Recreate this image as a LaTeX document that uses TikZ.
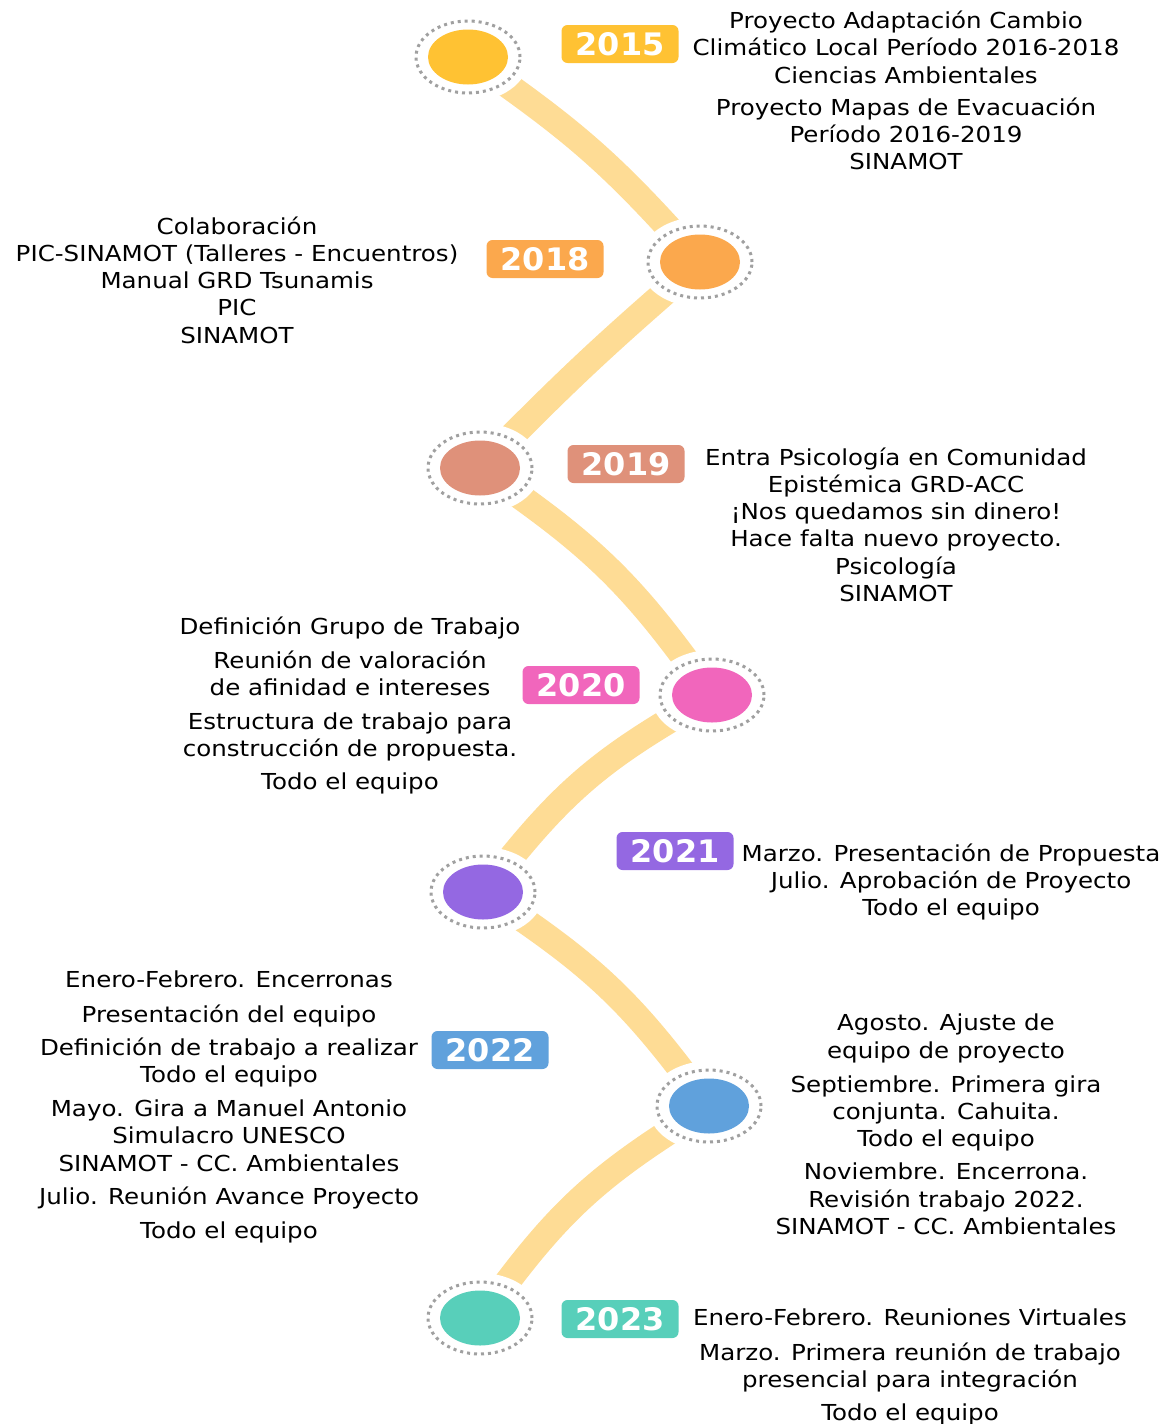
\documentclass[tikz,border=0pt]{standalone}
\usepackage{fontspec}
\setmainfont[FakeStretch=1.115]{DejaVu Sans}
\newfontfamily\yearfont[FakeStretch=1.03]{DejaVu Sans}
\usetikzlibrary{shapes.geometric, backgrounds}

\definecolor{c15}{HTML}{FFC233}
\definecolor{c18}{HTML}{FBA84D}
\definecolor{c19}{HTML}{DF917A}
\definecolor{c20}{HTML}{F166BC}
\definecolor{c21}{HTML}{9468E2}
\definecolor{c22}{HTML}{60A1DC}
\definecolor{c23}{HTML}{58CFBA}
\definecolor{bandcol}{HTML}{FEDC95}
\definecolor{ringgray}{HTML}{A0A0A0}

\tikzset{
    yeardot/.style={ellipse, minimum width=104pt, minimum height=72pt, inner sep=0pt,
        draw=ringgray, line width=3pt, dash pattern=on 3pt off 4pt, fill=white,
        preaction={draw=white, solid, line width=18pt},
        path picture={\fill[#1] (path picture bounding box.center) ellipse [x radius=40pt, y radius=27.5pt];}},
    yearbox/.style={rounded corners=6pt, fill=#1, text=white, minimum width=117pt, minimum height=38pt,
        inner sep=0pt, font=\yearfont\bfseries\fontsize{31}{32}\selectfont},
    notes/.style={align=center, inner sep=0pt, anchor=north, font=\fontsize{22}{27.2}\selectfont},
    band/.style={draw=bandcol, line width=26pt},
}

\begin{document}
\begin{tikzpicture}[x=1pt, y=-1pt]
            \useasboundingbox (0, 0) rectangle (1164, 1424);

            \node[yeardot=c15] at (468, 57) (s15) {};
            \node[yeardot=c18] at (700, 262) (s18) {};
            \node[yeardot=c19] at (480, 468) (s19) {};
            \node[yeardot=c20] at (712, 695) (s20) {};
            \node[yeardot=c21] at (483, 892) (s21) {};
            \node[yeardot=c22] at (709, 1106) (s22) {};
            \node[yeardot=c23] at (480, 1318) (s23) {};

            \begin{scope}[on background layer]
                \draw[band] (s15) to[bend left=6] (s18);
                \draw[band] (s18) to[bend right=2] (s19);
                \draw[band] (s19) to[bend left=9] (s20);
                \draw[band] (s20) to[bend right=10] (s21);
                \draw[band] (s21) to[bend left=9] (s22);
                \draw[band] (s22) to[bend right=10] (s23);
            \end{scope}

            \node[yearbox=c15] at (620, 44) (y15) {2015};
            \node[yearbox=c18] at (545, 259) (y18) {2018};
            \node[yearbox=c19] at (626, 464) (y19) {2019};
            \node[yearbox=c20] at (581, 685) (y20) {2020};
            \node[yearbox=c21] at (675, 851) (y21) {2021};
            \node[yearbox=c22] at (490, 1050) (y22) {2022};
            \node[yearbox=c23] at (620, 1319) (y23) {2023};

            % texto de cada año
            \node[notes] at (906, 11) (t15) {Proyecto Adaptación Cambio\\ Climático Local Período 2016-2018\\ Ciencias Ambientales\\[5pt]
                Proyecto Mapas de Evacuación\\ Período 2016-2019\\ SINAMOT};
            \node[notes] at (237, 216.5) (t18) {Colaboración\\ PIC-SINAMOT (Talleres - Encuentros)\\ Manual GRD Tsunamis\\ PIC\\ SINAMOT};
            \node[notes] at (896, 447.5) (t19) {Entra Psicología en Comunidad\\ Epistémica GRD-ACC\\ ¡Nos quedamos sin dinero!\\
                Hace falta nuevo proyecto.\\ Psicología\\ SINAMOT};
            \node[notes] at (350, 617) (t20) {Definición Grupo de Trabajo\\[6pt] Reunión de valoración\\ de afinidad e intereses\\[7pt]
                Estructura de trabajo para\\ construcción de propuesta.\\[6pt] Todo el equipo};
            \node[notes] at (951, 843.5) (t21) {Marzo. Presentación de Propuesta\\ Julio. Aprobación de Proyecto\\ Todo el equipo};
            \node[notes] at (229, 971) (t22a) {Enero-Febrero. Encerronas\\[7pt] Presentación del equipo\\[6pt] Definición de trabajo a realizar\\
                Todo el equipo\\[7pt] Mayo. Gira a Manuel Antonio\\ Simulacro UNESCO\\ SINAMOT - CC. Ambientales\\[6pt]
                Julio. Reunión Avance Proyecto\\[7pt] Todo el equipo};
            \node[notes] at (946, 1014) (t22b) {Agosto. Ajuste de\\ equipo de proyecto\\[7pt] Septiembre. Primera gira\\ conjunta. Cahuita.\\
                Todo el equipo\\[6pt] Noviembre. Encerrona.\\ Revisión trabajo 2022.\\ SINAMOT - CC. Ambientales};
            \node[notes] at (910, 1309) (t23) {Enero-Febrero. Reuniones Virtuales\\[7pt] Marzo. Primera reunión de trabajo\\
                presencial para integración\\[6pt] Todo el equipo};
        \end{tikzpicture}
\end{document}
